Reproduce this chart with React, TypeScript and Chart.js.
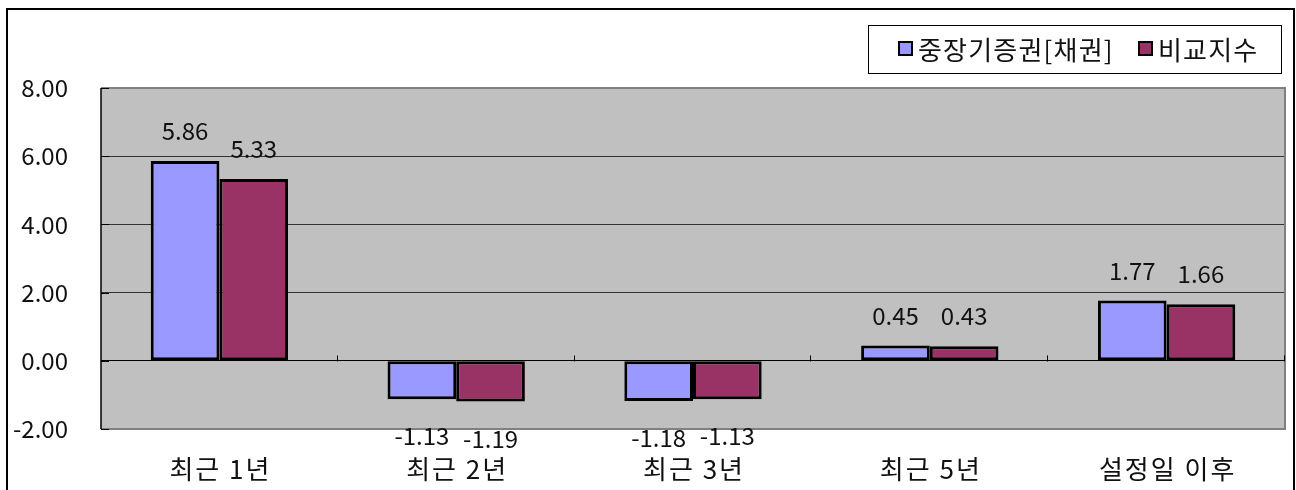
import React, { useEffect, useRef } from 'react';
import { Chart, registerables } from 'chart.js';

Chart.register(...registerables);

const categories = ['최근 1년', '최근 2년', '최근 3년', '최근 5년', '설정일 이후'];
const seriesNames = ['중장기증권[채권]', '비교지수'];
const fundValues = [5.86, -1.13, -1.18, 0.45, 1.77];
const indexValues = [5.33, -1.19, -1.13, 0.43, 1.66];
const yMin = -2;
const yMax = 8;
const yStep = 2;

const FONT = "'Noto Sans CJK KR', 'Noto Sans', sans-serif";
const COLORS = ['#9999FF', '#993366'];

const decorPlugin = {
  id: 'decor',
  beforeDraw(chart: any) {
    const { ctx, chartArea } = chart;
    ctx.save();
    ctx.fillStyle = '#ffffff';
    ctx.fillRect(0, 0, chart.width, chart.height);
    ctx.fillStyle = '#C0C0C0';
    ctx.fillRect(chartArea.left, chartArea.top, chartArea.right - chartArea.left, chartArea.bottom - chartArea.top);
    // outer frame
    ctx.strokeStyle = '#000';
    ctx.lineWidth = 2;
    ctx.strokeRect(7, 9, chart.width - 9, chart.height + 40);
    ctx.restore();
  },
  afterDatasetsDraw(chart: any) {
    const { ctx, chartArea, scales } = chart;
    const y = scales.y;
    const x = scales.x;
    ctx.save();
    // plot border (right / top / bottom grey)
    ctx.strokeStyle = '#808080';
    ctx.lineWidth = 2;
    ctx.beginPath();
    ctx.moveTo(chartArea.left, chartArea.top);
    ctx.lineTo(chartArea.right, chartArea.top);
    ctx.lineTo(chartArea.right, chartArea.bottom);
    ctx.lineTo(chartArea.left, chartArea.bottom);
    ctx.stroke();
    // left axis line
    ctx.strokeStyle = '#000';
    ctx.lineWidth = 1.5;
    ctx.beginPath();
    ctx.moveTo(chartArea.left, chartArea.top);
    ctx.lineTo(chartArea.left, chartArea.bottom);
    ctx.stroke();
    // y inner tick marks
    ctx.lineWidth = 1;
    for (let v = yMin; v <= yMax; v += yStep) {
      const py = Math.round(y.getPixelForValue(v)) + 0.5;
      ctx.beginPath();
      ctx.moveTo(chartArea.left, py);
      ctx.lineTo(chartArea.left + 8, py);
      ctx.stroke();
    }
    // category tick marks on zero line
    const zy = Math.round(y.getPixelForValue(0)) + 0.5;
    const n = categories.length;
    const w = (chartArea.right - chartArea.left) / n;
    for (let i = 1; i <= n; i++) {
      const px = Math.round(chartArea.left + i * w) - 0.5;
      ctx.beginPath();
      ctx.moveTo(px, zy);
      ctx.lineTo(px, zy - 6);
      ctx.stroke();
    }
    // data labels
    ctx.fillStyle = '#111';
    ctx.font = `24px ${FONT}`;
    ctx.textAlign = 'center';
    ctx.textBaseline = 'middle';
    chart.data.datasets.forEach((ds: any, di: number) => {
      const meta = chart.getDatasetMeta(di);
      meta.data.forEach((bar: any, i: number) => {
        const v = ds.data[i];
        const ly = v >= 0 ? bar.y - 30 : bar.y + 37;
        ctx.fillText(v.toFixed(2), bar.x, ly);
      });
    });
    // category labels
    ctx.font = `26px ${FONT}`;
    (ctx as any).letterSpacing = '2px';
    categories.forEach((c, i) => {
      ctx.fillText(c, x.getPixelForValue(i) + 1, 469);
    });
    (ctx as any).letterSpacing = '0px';
    ctx.restore();
  },
  afterDraw(chart: any) {
    const { ctx } = chart;
    ctx.save();
    // legend box
    ctx.fillStyle = '#fff';
    ctx.fillRect(868, 25, 413, 48);
    ctx.strokeStyle = '#000';
    ctx.lineWidth = 1;
    ctx.strokeRect(868.5, 25.5, 413, 48);
    ctx.font = `26px ${FONT}`;
    (ctx as any).letterSpacing = '1.2px';
    ctx.textBaseline = 'middle';
    ctx.textAlign = 'left';
    const ly = 49;
    let lx = 899;
    seriesNames.forEach((name, i) => {
      ctx.fillStyle = COLORS[i];
      ctx.fillRect(lx, ly - 7, 13, 13);
      ctx.strokeStyle = '#000';
      ctx.lineWidth = 2;
      ctx.strokeRect(lx, ly - 7, 13, 13);
      ctx.fillStyle = '#111';
      ctx.fillText(name, lx + 19, ly + 1);
      lx = 1139;
    });
    (ctx as any).letterSpacing = '0px';
    ctx.restore();
  },
};

export default function App() {
  const canvasRef = useRef<HTMLCanvasElement | null>(null);

  useEffect(() => {
    const canvas = canvasRef.current;
    if (!canvas) return;
    const chart = new Chart(canvas, {
      type: 'bar',
      data: {
        labels: categories,
        datasets: [
          {
            label: seriesNames[0],
            data: fundValues,
            backgroundColor: COLORS[0],
            borderColor: '#000',
            borderWidth: 3,
            borderSkipped: false,
            categoryPercentage: 0.58,
            barPercentage: 1.0,
          },
          {
            label: seriesNames[1],
            data: indexValues,
            backgroundColor: COLORS[1],
            borderColor: '#000',
            borderWidth: 3,
            borderSkipped: false,
            categoryPercentage: 0.58,
            barPercentage: 1.0,
          },
        ],
      },
      options: {
        animation: false,
        responsive: false,
        devicePixelRatio: 1,
        layout: { padding: { top: 88, right: 11, left: 0, bottom: 0 } },
        plugins: {
          legend: { display: false },
          tooltip: { enabled: false },
          title: { display: false },
        },
        scales: {
          x: {
            grid: { display: false, drawTicks: false },
            border: { display: false },
            ticks: { display: false },
            afterFit(scale: any) {
              scale.height = 61;
            },
          },
          y: {
            min: yMin,
            max: yMax,
            grid: {
              drawTicks: false,
              color: (c: any) => {
                const v = c.tick && c.tick.value;
                if (v === yMax || v === yMin) return 'rgba(0,0,0,0)';
                if (v === 0) return '#000';
                return '#333';
              },
              lineWidth: 1,
            },
            border: { display: false },
            ticks: {
              stepSize: yStep,
              color: '#111',
              font: { family: FONT, size: 24 },
              padding: 33,
              callback: (v: any) => Number(v).toFixed(2),
            },
            afterFit(scale: any) {
              scale.width = 101;
            },
          },
        },
      },
      plugins: [decorPlugin],
    });
    return () => chart.destroy();
  }, []);

  return (
    <div style={{ position: 'fixed', left: 0, top: 0, width: 1296, height: 490, background: '#fff' }}>
      <canvas ref={canvasRef} width={1296} height={490} style={{ width: 1296, height: 490, display: 'block' }} />
    </div>
  );
}
